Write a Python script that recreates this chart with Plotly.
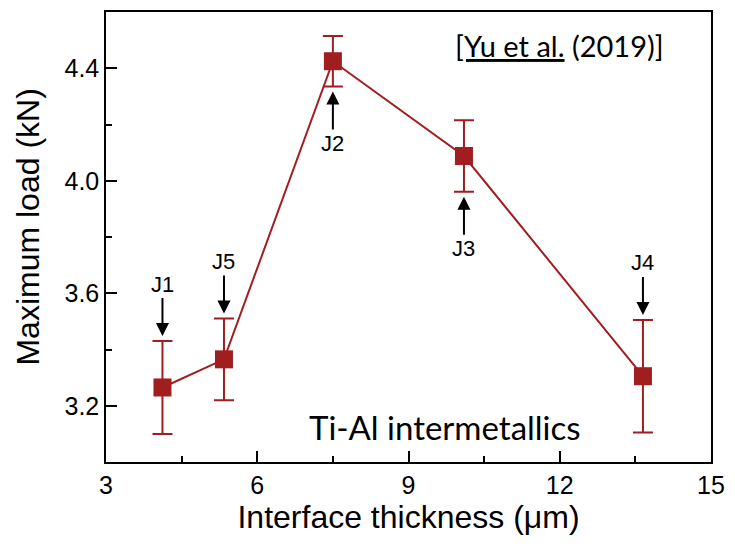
import plotly.graph_objects as go

labels = ["J1", "J5", "J2", "J3", "J4"]
thickness = [4.12, 5.34, 7.5, 10.1, 13.65]
max_load = [3.265, 3.365, 4.425, 4.088, 3.305]
load_err = [0.165, 0.145, 0.09, 0.127, 0.20]
arrow_side = ["top", "top", "bottom", "bottom", "top"]

red = "#a11d1f"
font_main = "Liberation Sans, Arial, sans-serif"
font_note = "Lato, Open Sans, sans-serif"

fig = go.Figure()
fig.add_trace(go.Scatter(
    x=thickness, y=max_load,
    mode="lines+markers",
    line=dict(color=red, width=2),
    marker=dict(symbol="square", size=18, color=red),
    error_y=dict(type="data", array=load_err, visible=True, color=red, thickness=2, width=10),
    showlegend=False, hoverinfo="skip",
))

for lab, xv, yv, ev, side in zip(labels, thickness, max_load, load_err, arrow_side):
    top = side == "top"
    fig.add_annotation(x=xv, y=(yv + ev) if top else (yv - ev), xref="x", yref="y", text=lab,
                       showarrow=True, ax=0, ay=-57 if top else 57, arrowhead=2, arrowsize=1.3,
                       arrowwidth=2, arrowcolor="black", standoff=5,
                       font=dict(family=font_main, size=22, color="black"))

fig.add_annotation(x=0.561, y=0.078, xref="paper", yref="paper", text="Ti-Al intermetallics",
                   xanchor="center", yanchor="middle",
                   showarrow=False, font=dict(family=font_note, size=33, color="black"))
fig.add_annotation(x=0.749, y=0.925, xref="paper", yref="paper",
                   text="<span style='text-decoration:underline'>[Yu et al.</span> (2019)]",
                   xanchor="center", yanchor="middle",
                   showarrow=False, font=dict(family=font_note, size=29, color="black"))

# y-axis title placed as a rotated annotation for precise positioning
fig.add_annotation(x=0, y=0.521, xref="paper", yref="paper", text="Maximum load (kN)",
                   textangle=-90, xanchor="center", yanchor="middle", xshift=-78,
                   showarrow=False, font=dict(family=font_main, size=32, color="black"))

axis_common = dict(showline=True, linecolor="black", linewidth=1.5, mirror=True,
                   ticks="inside", ticklen=11, tickwidth=1.5, tickcolor="black",
                   showgrid=False, zeroline=False,
                   tickfont=dict(family=font_main, size=25, color="black"))

fig.update_xaxes(range=[3, 15], dtick=3, tick0=3,
                 minor=dict(ticks="inside", dtick=1.5, ticklen=6, tickwidth=1.5, tickcolor="black"),
                 title=dict(text="Interface thickness (μm)", font=dict(family=font_main, size=32, color="black"), standoff=0),
                 **axis_common)
fig.update_yaxes(range=[3.0, 4.6], tickvals=[3.2, 3.6, 4.0, 4.4], ticktext=["3.2", "3.6", "4.0", "4.4"],
                 minor=dict(ticks="inside", tickvals=[3.4, 3.8, 4.2], ticklen=6, tickwidth=1.5, tickcolor="black"),
                 **axis_common)

fig.update_layout(width=735, height=549, plot_bgcolor="white", paper_bgcolor="white",
                  margin=dict(l=106, r=23, t=10, b=87), hovermode=False)

fig.write_html("out.html", config={"displayModeBar": False},
               post_script="document.body.style.margin='0px';")
